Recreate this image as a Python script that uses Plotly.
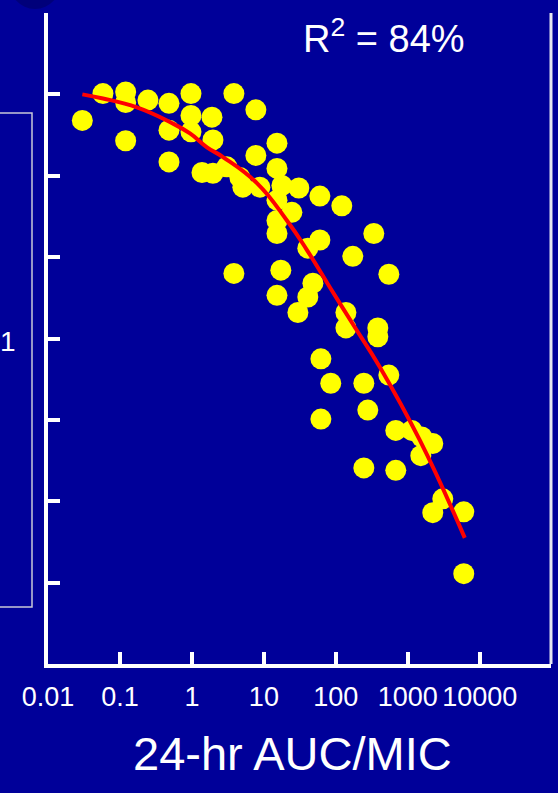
import plotly.graph_objects as go

# Data (24-hr AUC/MIC vs response, unlabeled y axis)
auc_mic = [0.03, 0.058, 0.12, 0.12, 0.245, 0.48, 0.12, 0.48, 0.48, 0.97,
           0.97, 0.97, 1.9, 1.96, 3.83, 7.74, 7.74, 1.38, 1.96, 3.06,
           4.64, 5.1, 8.8, 15.2, 15.2, 17.8, 30.6, 60, 121, 15.2,
           24.5, 15.2, 15.2, 40.8, 60, 172, 337, 3.83, 17.2, 48,
           15.2, 40.8, 29.7, 138, 138, 383, 383, 545, 62, 85,
           245, 545, 62, 278, 681, 1136, 1564, 2223, 1517, 245,
           681, 3063, 2223, 5995, 5995]
response = [6.68, 7.01, 7.03, 6.90, 6.93, 6.89, 6.43, 6.56, 6.17, 7.01,
            6.74, 6.54, 6.72, 6.44, 7.01, 6.81, 6.25, 6.04, 6.03, 6.11,
            5.98, 5.86, 5.86, 6.40, 6.09, 5.88, 5.85, 5.75, 5.63, 5.70,
            5.55, 5.45, 5.29, 5.11, 5.21, 5.01, 5.29, 4.80, 4.84, 4.68,
            4.53, 4.51, 4.32, 4.32, 4.13, 4.13, 4.02, 4.79, 3.75, 3.45,
            3.45, 3.55, 3.01, 3.12, 2.87, 2.87, 2.79, 2.71, 2.56, 2.41,
            2.38, 2.03, 1.86, 1.87, 1.11]

# Fitted curve
fit_x = [0.03, 0.058, 0.172, 0.494, 0.94, 1.62, 2.70, 8.0, 20.9, 39.5,
         82.5, 180, 408, 1468, 6190]
fit_y = [7.00, 6.95, 6.84, 6.66, 6.52, 6.35, 6.23, 5.91, 5.45, 5.09,
         4.63, 4.15, 3.65, 2.75, 1.55]

x_tick_vals = [0.01, 0.1, 1, 10, 100, 1000, 10000]
x_tick_text = ["0.01", "0.1", "1", "10", "100", "1000", "10000"]
y_tick_vals = [1, 2, 3, 4, 5, 6, 7, 8]

r2_text = "R<sup>2</sup> = 84%"
x_title = "24-hr AUC/MIC"

BG = "#000099"
FONT = "Liberation Sans, Arial, sans-serif"

fig = go.Figure()
fig.add_trace(go.Scatter(
    x=auc_mic, y=response, mode="markers",
    marker=dict(color="#FFFF00", size=21, line=dict(width=0)),
    hoverinfo="skip", showlegend=False))
fig.add_trace(go.Scatter(
    x=fit_x, y=fit_y, mode="lines",
    line=dict(color="#FF0000", width=4, shape="spline", smoothing=1.3),
    hoverinfo="skip", showlegend=False))

fig.update_layout(
    width=558, height=793,
    margin=dict(l=48, r=7, t=13, b=129),
    paper_bgcolor=BG, plot_bgcolor=BG,
    font=dict(family=FONT, color="white"),
    showlegend=False,
    xaxis=dict(type="log", range=[-2, 4.99], tickvals=x_tick_vals,
               ticktext=x_tick_text, ticks="inside", ticklen=12,
               tickwidth=4, tickcolor="white", showline=True,
               linewidth=4, linecolor="white", showgrid=False,
               zeroline=False, tickangle=0, ticklabelstandoff=6,
               tickfont=dict(size=27, color="white")),
    yaxis=dict(range=[0, 8], tickvals=y_tick_vals, showticklabels=False,
               ticks="inside", ticklen=12, tickwidth=4, tickcolor="white",
               showline=True, linewidth=4, linecolor="white",
               showgrid=False, zeroline=False),
    shapes=[
        dict(type="line", xref="paper", yref="paper", x0=1, x1=1,
             y0=0, y1=1, line=dict(color="#E6E6F0", width=3)),
        dict(type="rect", xref="paper", yref="paper",
             x0=-0.2, x1=(32 - 48) / 503, y0=(664 - 607) / 651,
             y1=(664 - 113) / 651,
             line=dict(color="#C8C8D8", width=1.5)),
        dict(type="circle", xref="paper", yref="paper",
             x0=(8 - 48) / 503, x1=(62 - 48) / 503,
             y0=(664 - 9) / 651, y1=(664 + 50) / 651,
             line=dict(width=0), fillcolor="#00007A", layer="below"),
    ],
    annotations=[
        dict(text=r2_text, xref="paper", yref="paper",
             x=(384 - 48) / 503, y=(664 - 36) / 651,
             xanchor="center", yanchor="middle", showarrow=False,
             font=dict(size=38, color="white", family=FONT)),
        dict(text=x_title, xref="paper", yref="paper",
             x=(292 - 48) / 503, y=(664 - 753) / 651,
             xanchor="center", yanchor="middle", showarrow=False,
             font=dict(size=47, color="white", family=FONT)),
        dict(text="1", xref="paper", yref="paper",
             x=(8 - 48) / 503, y=(664 - 341) / 651,
             xanchor="center", yanchor="middle", showarrow=False,
             font=dict(size=28, color="white", family=FONT)),
    ],
)

fig.write_html("out.html",
               config={"displayModeBar": False},
               post_script="document.body.style.margin='0';"
                           "document.body.style.overflow='hidden';")
